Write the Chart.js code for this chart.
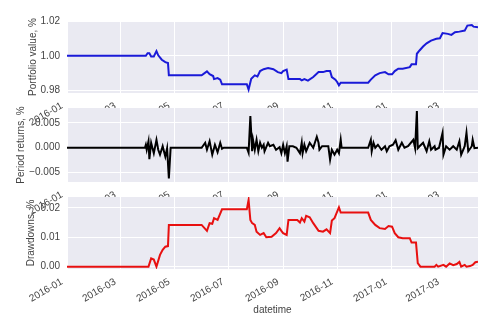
<!DOCTYPE html>
<html>
<head>
<meta charset="utf-8">
<title>Portfolio backtest</title>
<script src="https://cdn.jsdelivr.net/npm/chart.js@4.4.1/dist/chart.umd.min.js"></script>
<style>
  html, body { margin: 0; padding: 0; background: #fff; }
  #wrap { position: relative; width: 500px; height: 324px; overflow: hidden; }
  #wrap canvas { position: absolute; left: 0; }
</style>
</head>
<body>
<div id="wrap">
  <canvas id="valueChart" width="500" height="140" style="top:0px"></canvas>
  <canvas id="returnsChart" width="500" height="140" style="top:100px"></canvas>
  <canvas id="drawdownChart" width="500" height="139" style="top:185px"></canvas>
</div>
<script>
// Shared date axis
const startDate = "2016-01-01";
const endDate = "2017-04-09";
const xTickLabels = ["2016-01", "2016-03", "2016-05", "2016-07", "2016-09", "2016-11", "2017-01", "2017-03"];

// Portfolio value
const valueDates = [
  "2016-01-01", "2016-03-30", "2016-04-01", "2016-04-03", "2016-04-05", "2016-04-08", "2016-04-11",
  "2016-04-13", "2016-04-17", "2016-04-21", "2016-04-24", "2016-04-25", "2016-06-01", "2016-06-07",
  "2016-06-10", "2016-06-14", "2016-06-15", "2016-06-19", "2016-06-22", "2016-06-24", "2016-07-22",
  "2016-07-24", "2016-07-27", "2016-07-31", "2016-08-03", "2016-08-06", "2016-08-10", "2016-08-15",
  "2016-08-21", "2016-08-26", "2016-08-30", "2016-09-01", "2016-09-05", "2016-09-07", "2016-09-20",
  "2016-09-22", "2016-09-25", "2016-09-29", "2016-10-05", "2016-10-11", "2016-10-16", "2016-10-20",
  "2016-10-24", "2016-10-26", "2016-10-30", "2016-11-01", "2016-11-03", "2016-11-05", "2016-12-06",
  "2016-12-09", "2016-12-14", "2016-12-19", "2016-12-25", "2016-12-29", "2017-01-02", "2017-01-05",
  "2017-01-09", "2017-01-14", "2017-01-22", "2017-01-24", "2017-01-29", "2017-01-30", "2017-02-02",
  "2017-02-06", "2017-02-10", "2017-02-15", "2017-02-21", "2017-02-25", "2017-02-28", "2017-03-06",
  "2017-03-10", "2017-03-14", "2017-03-19", "2017-03-25", "2017-03-28", "2017-04-02", "2017-04-04",
  "2017-04-09"
];
const values = [
  1.0000, 1.0000, 1.0015, 1.0015, 0.9996, 0.9996, 1.0027,
  1.0003, 0.9977, 0.9963, 0.9958, 0.9886, 0.9886, 0.9909,
  0.9893, 0.9882, 0.9864, 0.9870, 0.9861, 0.9834, 0.9834,
  0.9803, 0.9866, 0.9886, 0.9880, 0.9911, 0.9922, 0.9928,
  0.9922, 0.9905, 0.9899, 0.9911, 0.9919, 0.9864, 0.9864,
  0.9857, 0.9864, 0.9855, 0.9876, 0.9905, 0.9905, 0.9911,
  0.9911, 0.9876, 0.9861, 0.9847, 0.9828, 0.9843, 0.9843,
  0.9861, 0.9886, 0.9899, 0.9905, 0.9892, 0.9892, 0.9911,
  0.9925, 0.9925, 0.9934, 0.9950, 0.9950, 1.0012, 1.0031,
  1.0054, 1.0073, 1.0089, 1.0099, 1.0102, 1.0133, 1.0128,
  1.0122, 1.0137, 1.0141, 1.0147, 1.0176, 1.0180, 1.0170,
  1.0166
];
const valueTicks = [0.98, 1.00, 1.02];

// Period returns
const returnDates = [
  "2016-01-01", "2016-03-29", "2016-03-30", "2016-03-31", "2016-04-02", "2016-04-03", "2016-04-05",
  "2016-04-08", "2016-04-11", "2016-04-13", "2016-04-15", "2016-04-18", "2016-04-21", "2016-04-23",
  "2016-04-25", "2016-04-27", "2016-06-01", "2016-06-05", "2016-06-07", "2016-06-10", "2016-06-13",
  "2016-06-16", "2016-06-19", "2016-06-22", "2016-06-24", "2016-06-26", "2016-07-22", "2016-07-24",
  "2016-07-26", "2016-07-28", "2016-07-29", "2016-07-31", "2016-08-02", "2016-08-04", "2016-08-06",
  "2016-08-08", "2016-08-10", "2016-08-11", "2016-08-15", "2016-08-17", "2016-08-21", "2016-08-24",
  "2016-08-28", "2016-08-30", "2016-09-01", "2016-09-03", "2016-09-05", "2016-09-06", "2016-09-08",
  "2016-09-12", "2016-09-16", "2016-09-20", "2016-09-22", "2016-09-23", "2016-09-25", "2016-09-27",
  "2016-10-01", "2016-10-05", "2016-10-09", "2016-10-11", "2016-10-12", "2016-10-15", "2016-10-18",
  "2016-10-22", "2016-10-24", "2016-10-26", "2016-10-29", "2016-11-01", "2016-11-03", "2016-11-05",
  "2016-11-06", "2016-12-06", "2016-12-09", "2016-12-10", "2016-12-12", "2016-12-14", "2016-12-17",
  "2016-12-21", "2016-12-25", "2016-12-27", "2016-12-30", "2017-01-03", "2017-01-06", "2017-01-09",
  "2017-01-13", "2017-01-16", "2017-01-20", "2017-01-26", "2017-01-28", "2017-01-30", "2017-01-31",
  "2017-02-02", "2017-02-06", "2017-02-10", "2017-02-13", "2017-02-15", "2017-02-19", "2017-02-20",
  "2017-02-24", "2017-02-28", "2017-03-01", "2017-03-04", "2017-03-08", "2017-03-12", "2017-03-16",
  "2017-03-19", "2017-03-21", "2017-03-25", "2017-03-27", "2017-03-29", "2017-04-02", "2017-04-03",
  "2017-04-05", "2017-04-09"
];
const returns = [
  0.0000, 0.0000, 0.0006, -0.0004, 0.0013, -0.0023, 0.0010,
  -0.0011, 0.0016, -0.0004, -0.0014, 0.0003, -0.0018, -0.0001,
  -0.0062, 0.0000, 0.0000, 0.0010, -0.0004, 0.0013, -0.0014,
  0.0006, -0.0009, 0.0010, -0.0002, 0.0000, 0.0000, -0.0010,
  0.0064, -0.0007, 0.0016, -0.0004, 0.0016, -0.0007, 0.0010,
  0.0000, 0.0006, -0.0007, 0.0010, 0.0003, 0.0006, -0.0004,
  0.0001, -0.0011, 0.0006, -0.0011, 0.0003, -0.0028, 0.0003,
  0.0003, 0.0000, -0.0011, 0.0010, -0.0011, 0.0006, -0.0007,
  0.0010, 0.0000, 0.0022, 0.0010, -0.0004, 0.0003, 0.0003,
  0.0003, -0.0024, -0.0004, -0.0014, -0.0004, -0.0011, 0.0016,
  0.0000, 0.0000, 0.0016, -0.0007, 0.0010, 0.0000, 0.0006,
  -0.0004, 0.0003, -0.0007, 0.0003, 0.0006, 0.0015, -0.0004,
  0.0010, 0.0000, 0.0003, 0.0016, -0.0001, 0.0074, -0.0001,
  0.0003, 0.0010, -0.0007, 0.0013, -0.0004, 0.0003, -0.0004,
  0.0000, 0.0030, -0.0014, 0.0003, -0.0004, 0.0003, -0.0004,
  0.0013, -0.0014, 0.0003, 0.0030, -0.0007, 0.0003, 0.0016,
  -0.0001, 0.0000
];
const returnTicks = [-0.005, 0.000, 0.005];

// Drawdowns
const drawdownDates = [
  "2016-01-01", "2016-03-29", "2016-04-02", "2016-04-05", "2016-04-08", "2016-04-11", "2016-04-15",
  "2016-04-18", "2016-04-21", "2016-04-24", "2016-04-25", "2016-06-01", "2016-06-07", "2016-06-10",
  "2016-06-13", "2016-06-15", "2016-06-19", "2016-06-24", "2016-07-22", "2016-07-24", "2016-07-26",
  "2016-07-28", "2016-07-31", "2016-08-02", "2016-08-06", "2016-08-10", "2016-08-13", "2016-08-19",
  "2016-08-24", "2016-08-28", "2016-08-30", "2016-09-01", "2016-09-05", "2016-09-07", "2016-09-17",
  "2016-09-20", "2016-09-22", "2016-09-25", "2016-09-27", "2016-10-01", "2016-10-05", "2016-10-11",
  "2016-10-16", "2016-10-20", "2016-10-24", "2016-10-26", "2016-10-29", "2016-11-01", "2016-11-03",
  "2016-11-05", "2016-12-06", "2016-12-09", "2016-12-14", "2016-12-19", "2016-12-25", "2016-12-29",
  "2017-01-02", "2017-01-05", "2017-01-09", "2017-01-14", "2017-01-22", "2017-01-24", "2017-01-29",
  "2017-01-31", "2017-02-03", "2017-02-19", "2017-02-21", "2017-02-23", "2017-03-01", "2017-03-04",
  "2017-03-08", "2017-03-12", "2017-03-16", "2017-03-19", "2017-03-21", "2017-03-25", "2017-03-27",
  "2017-03-31", "2017-04-03", "2017-04-06", "2017-04-09"
];
const drawdowns = [
  0.0000, 0.0000, 0.0000, 0.0028, 0.0024, 0.0000, 0.0040,
  0.0057, 0.0068, 0.0070, 0.0142, 0.0142, 0.0122, 0.0148,
  0.0146, 0.0165, 0.0159, 0.0195, 0.0195, 0.0227, 0.0159,
  0.0148, 0.0142, 0.0119, 0.0108, 0.0114, 0.0100, 0.0102,
  0.0114, 0.0131, 0.0122, 0.0114, 0.0108, 0.0159, 0.0159,
  0.0150, 0.0165, 0.0153, 0.0173, 0.0168, 0.0148, 0.0122,
  0.0119, 0.0127, 0.0114, 0.0157, 0.0165, 0.0187, 0.0202,
  0.0184, 0.0184, 0.0159, 0.0142, 0.0131, 0.0128, 0.0138,
  0.0136, 0.0114, 0.0100, 0.0097, 0.0097, 0.0082, 0.0082,
  0.0012, 0.0000, 0.0000, 0.0006, 0.0000, 0.0006, 0.0000,
  0.0011, 0.0005, 0.0009, 0.0016, 0.0000, 0.0006, 0.0000,
  0.0002, 0.0006, 0.0015, 0.0017
];
const drawdownTicks = [0.00, 0.01, 0.02];

const TEXT = "#444444";
const FONT = { family: "'Liberation Sans', Arial, sans-serif", size: 10 };
const PLOT_RIGHT = 22;
const AXIS_WIDTH = 67;

function toDay(s) {
  return (Date.parse(s) - Date.parse(startDate)) / 864e5;
}

const xTickDays = xTickLabels.map((m) => toDay(m + "-01"));

// seaborn-style grey plot area behind the grid
const plotBackground = {
  id: "plotBackground",
  beforeDraw(chart) {
    const { ctx, chartArea: a } = chart;
    ctx.save();
    ctx.fillStyle = "#EAEAF2";
    ctx.fillRect(a.left, a.top, a.right - a.left, a.bottom - a.top);
    ctx.restore();
  },
};

function makePanel(id, p) {
  const points = p.dates.map((d, i) => ({ x: toDay(d), y: p.values[i] }));
  return new Chart(document.getElementById(id), {
    type: "line",
    data: {
      datasets: [
        {
          data: points,
          borderColor: p.color,
          borderWidth: 2,
          pointRadius: 0,
          tension: 0,
          fill: false,
        },
      ],
    },
    options: {
      responsive: false,
      animation: false,
      events: [],
      layout: { padding: { top: p.top, right: PLOT_RIGHT, bottom: 0, left: 0 } },
      plugins: { legend: { display: false }, tooltip: { enabled: false } },
      scales: {
        x: {
          type: "linear",
          min: 0,
          max: toDay(endDate),
          border: { display: false },
          grid: { color: "#ffffff", lineWidth: 1, drawTicks: false },
          ticks: {
            autoSkip: false,
            minRotation: 30,
            maxRotation: 30,
            padding: 7,
            labelOffset: -5,
            color: TEXT,
            font: FONT,
            callback: (v, i) => xTickLabels[i],
          },
          title: {
            display: !!p.xTitle,
            text: p.xTitle || "",
            color: TEXT,
            font: FONT,
            padding: { top: 0, bottom: 8 },
          },
          afterBuildTicks: (s) => {
            s.ticks = xTickDays.map((v) => ({ value: v }));
          },
          afterFit: (s) => {
            s.height = p.xHeight;
          },
        },
        y: {
          min: p.min,
          max: p.max,
          border: { display: false },
          // invisible tick marks give the label gap without padding the plot top
          grid: { color: "#ffffff", lineWidth: 1, drawTicks: true, tickLength: 7, tickColor: "rgba(0,0,0,0)" },
          ticks: {
            padding: 0,
            color: TEXT,
            font: FONT,
            callback: (v) => (v < 0 ? "\u2212" : "") + Math.abs(v).toFixed(p.digits),
          },
          title: {
            display: true,
            text: p.yTitle,
            color: TEXT,
            font: FONT,
            padding: { top: p.titlePad, bottom: 0 },
          },
          afterBuildTicks: (s) => {
            s.ticks = p.ticks.map((v) => ({ value: v }));
          },
          afterFit: (s) => {
            s.width = AXIS_WIDTH;
          },
        },
      },
    },
    plugins: [plotBackground],
  });
}

makePanel("valueChart", {
  dates: valueDates,
  values: values,
  color: "#1a1ad8",
  min: 0.9783,
  max: 1.0203,
  ticks: valueTicks,
  digits: 2,
  yTitle: "Portfolio value, %",
  titlePad: 27,
  top: 21,
  xHeight: 47,
});

makePanel("returnsChart", {
  dates: returnDates,
  values: returns,
  color: "#000000",
  min: -0.0069,
  max: 0.0080,
  ticks: returnTicks,
  digits: 3,
  yTitle: "Period returns, %",
  titlePad: 15,
  top: 8,
  xHeight: 58,
});

makePanel("drawdownChart", {
  dates: drawdownDates,
  values: drawdowns,
  color: "#e81010",
  min: -0.0008,
  max: 0.0237,
  ticks: drawdownTicks,
  digits: 2,
  yTitle: "Drawdowns, %",
  titlePad: 25,
  top: 12,
  xHeight: 55,
  xTitle: "datetime",
});
</script>
</body>
</html>
